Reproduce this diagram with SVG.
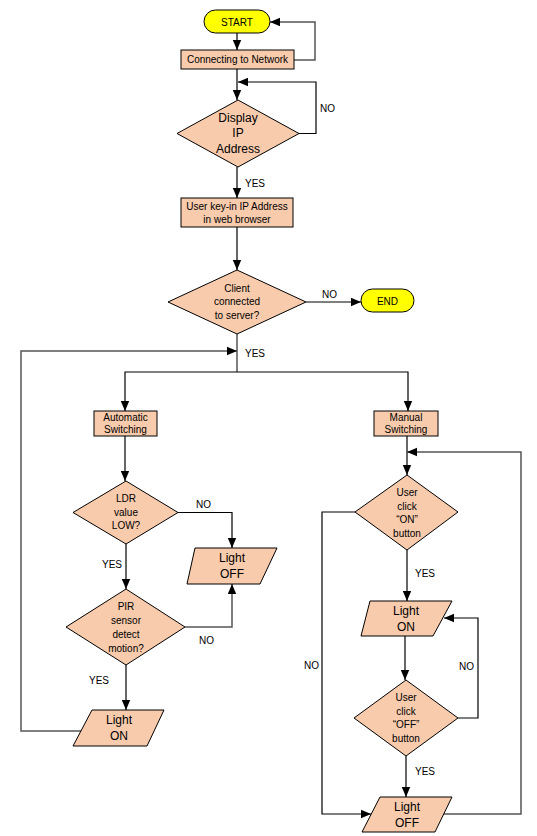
<svg xmlns="http://www.w3.org/2000/svg" width="537" height="836" viewBox="0 0 537 836">
<style>
.t{font-family:"Liberation Sans",Arial,sans-serif;font-size:10px;fill:#000;text-anchor:middle}
.b{font-size:12px}
.l{font-family:"Liberation Sans",Arial,sans-serif;font-size:10px;fill:#000}
.term{fill:#FFFF00;stroke:#000;stroke-width:1}
.box{fill:#F8CBAD;stroke:#000;stroke-width:1}
.c{fill:none;stroke:#000;stroke-width:1.2}
.g{fill:none;stroke:#555;stroke-width:1.5}
</style>
<defs>
<marker id="a" markerUnits="userSpaceOnUse" markerWidth="10" markerHeight="10" viewBox="0 0 10 10" refX="10" refY="5" orient="auto">
<path d="M0,0.8 L10,5 L0,9.2 Z" fill="#000"/>
</marker>
</defs>
<g id="connectors">
<path class="c" d="M237,33 V50" marker-end="url(#a)"/>
<path class="g" d="M294,60 H315 V22 H270" marker-end="url(#a)"/>
<path class="c" d="M237,69 V100" marker-end="url(#a)"/>
<path class="c" d="M299,133.5 H316 V82 H238" marker-end="url(#a)"/>
<path class="c" d="M237,167 V198" marker-end="url(#a)"/>
<path class="c" d="M237,227 V270" marker-end="url(#a)"/>
<path class="c" d="M306,302 H361" marker-end="url(#a)"/>
<path class="g" d="M237,334 V372"/>
<path class="c" d="M237,372 H125 V411" marker-end="url(#a)"/>
<path class="c" d="M237,372 H408 V411" marker-end="url(#a)"/>
<path class="g" d="M82,731 H21 V351 H237" marker-end="url(#a)"/>
<path class="c" d="M125,436 V481" marker-end="url(#a)"/>
<path class="c" d="M178,512.5 H232 V548" marker-end="url(#a)"/>
<path class="c" d="M126,544 V589" marker-end="url(#a)"/>
<path class="g" d="M185,627 H232 V584" marker-end="url(#a)"/>
<path class="c" d="M126,665 V710" marker-end="url(#a)"/>
<path class="c" d="M407,435 V475" marker-end="url(#a)"/>
<path class="c" d="M355,512 H322 V814 H371" marker-end="url(#a)"/>
<path class="c" d="M407,550 V601" marker-end="url(#a)"/>
<path class="c" d="M405,636 V680" marker-end="url(#a)"/>
<path class="c" d="M458,718 H478 V618 H444" marker-end="url(#a)"/>
<path class="c" d="M406,756 V797" marker-end="url(#a)"/>
<path class="g" d="M443,814 H521 V452 H407" marker-end="url(#a)"/>
<text class="l" x="320" y="112">NO</text>
<text class="l" x="245" y="187">YES</text>
<text class="l" x="322" y="298">NO</text>
<text class="l" x="245" y="357">YES</text>
<text class="l" x="196" y="508">NO</text>
<text class="l" x="102" y="568">YES</text>
<text class="l" x="199" y="644">NO</text>
<text class="l" x="89" y="684">YES</text>
<text class="l" x="415" y="577">YES</text>
<text class="l" x="304" y="669">NO</text>
<text class="l" x="459" y="670">NO</text>
<text class="l" x="415" y="775">YES</text>
</g>
<g id="start">
<rect class="term" x="204" y="10" width="66" height="23" rx="11.5"/>
<text class="t" x="237" y="25.5">START</text>
</g>
<g id="connect">
<rect class="box" x="181" y="50" width="113" height="19"/>
<text class="t" x="237.5" y="63">Connecting to Network</text>
</g>
<g id="display">
<polygon class="box" points="238,100 299,133.5 238,167 177,133.5"/>
<text class="t b" x="238" y="122">Display</text>
<text class="t b" x="238" y="137">IP</text>
<text class="t b" x="238" y="153">Address</text>
</g>
<g id="userkey">
<rect class="box" x="181" y="198" width="112" height="29"/>
<text class="t" x="237" y="209.5">User key-in IP Address</text>
<text class="t" x="237" y="223">in web browser</text>
</g>
<g id="client">
<polygon class="box" points="237,270 306,302 237,334 168,302"/>
<text class="t" x="237" y="292">Client</text>
<text class="t" x="237" y="305">connected</text>
<text class="t" x="237" y="319">to server?</text>
</g>
<g id="end">
<rect class="term" x="361" y="289" width="53" height="23" rx="11.5"/>
<text class="t" x="387.5" y="304.5">END</text>
</g>
<g id="auto">
<rect class="box" x="94" y="411" width="63" height="25"/>
<text class="t" x="125.5" y="421">Automatic</text>
<text class="t" x="125.5" y="433">Switching</text>
</g>
<g id="ldr">
<polygon class="box" points="126,481 178,512.5 126,544 73,512.5"/>
<text class="t" x="126" y="502">LDR</text>
<text class="t" x="126" y="515.5">value</text>
<text class="t" x="126" y="529">LOW?</text>
</g>
<g id="lightoff1">
<polygon class="box" points="195,548 277,548 260,584 187,584"/>
<text class="t b" x="232" y="562">Light</text>
<text class="t b" x="232" y="578">OFF</text>
</g>
<g id="pir">
<polygon class="box" points="126,589 185,627 126,665 66,627"/>
<text class="t" x="126" y="610">PIR</text>
<text class="t" x="126" y="624">sensor</text>
<text class="t" x="126" y="638">detect</text>
<text class="t" x="126" y="652">motion?</text>
</g>
<g id="lighton1">
<polygon class="box" points="92,710 164,710 147,746 73,746"/>
<text class="t b" x="119" y="724">Light</text>
<text class="t b" x="119" y="740">ON</text>
</g>
<g id="manual">
<rect class="box" x="374" y="411" width="64" height="25"/>
<text class="t" x="406" y="421">Manual</text>
<text class="t" x="406" y="433">Switching</text>
</g>
<g id="useron">
<polygon class="box" points="407,475 458,512 407,550 355,512"/>
<text class="t" x="407" y="496">User</text>
<text class="t" x="407" y="509.5">click</text>
<text class="t" x="407" y="523">“ON”</text>
<text class="t" x="407" y="537">button</text>
</g>
<g id="lighton2">
<polygon class="box" points="370,601 452,601 433,636 361,636"/>
<text class="t b" x="406" y="615">Light</text>
<text class="t b" x="406" y="631">ON</text>
</g>
<g id="useroff">
<polygon class="box" points="406,680 458,718 406,756 354,718"/>
<text class="t" x="406" y="701">User</text>
<text class="t" x="406" y="714.5">click</text>
<text class="t" x="406" y="728">“OFF”</text>
<text class="t" x="406" y="742">button</text>
</g>
<g id="lightoff2">
<polygon class="box" points="380,797 452,797 435,832 362,832"/>
<text class="t b" x="407" y="811">Light</text>
<text class="t b" x="407" y="827">OFF</text>
</g>
</svg>
